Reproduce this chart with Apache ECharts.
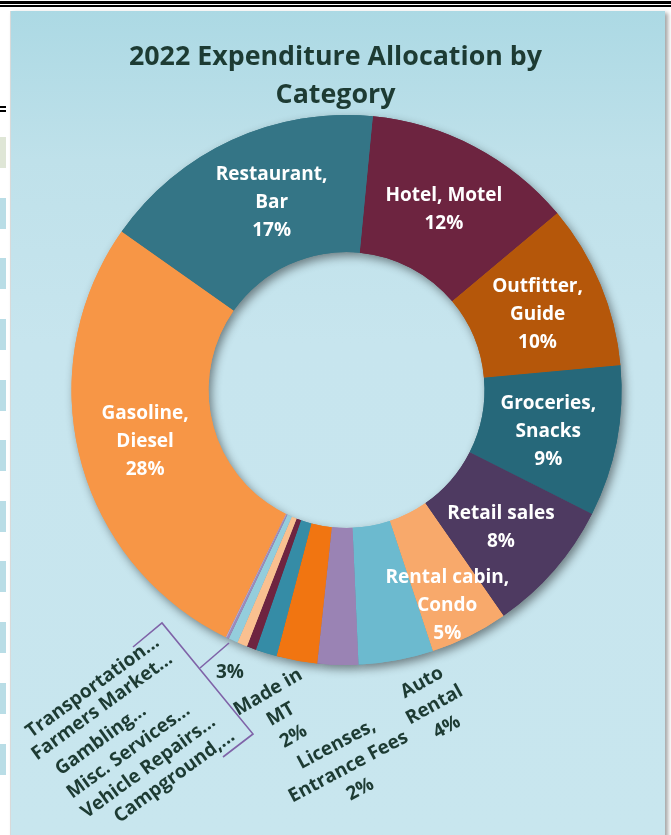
<!DOCTYPE html>
<html>
<head>
<meta charset="utf-8">
<script src="https://cdn.jsdelivr.net/npm/echarts@6/dist/echarts.min.js"></script>
<style>
  html, body { margin: 0; padding: 0; background: #ffffff; }
  #wrap { position: relative; width: 671px; height: 835px; overflow: hidden; background: #ffffff; }
  .hl { position: absolute; left: 0; width: 671px; background: #000; }
  .cell { position: absolute; left: 0; width: 6px; height: 31px; background: #b9dde6; }
  #panel { position: absolute; left: 10px; top: 11px; width: 654px; height: 830px;
    background: linear-gradient(to bottom, #acd9e4 0%, #bfe1ea 18%, #c7e5ee 40%, #c8e6ee 100%);
    box-shadow: 3px 2px 4px rgba(0,0,0,0.35); border-left: 1px solid #d9d9d9; }
  #chart { position: absolute; left: 0; top: 0; width: 671px; height: 835px; }
</style>
</head>
<body>
<div id="wrap">
  <div class="hl" style="top:1px;height:3px"></div>
  <div class="hl" style="top:5px;height:2px"></div>
  <div class="hl" style="top:106px;width:6px;height:2px"></div>
  <div class="hl" style="top:110px;width:6px;height:2px"></div>
  <div class="cell" style="top:137px;background:#dfe6d6"></div>
  <div class="cell" style="top:198px"></div>
  <div class="cell" style="top:258px"></div>
  <div class="cell" style="top:319px"></div>
  <div class="cell" style="top:380px"></div>
  <div class="cell" style="top:440px"></div>
  <div class="cell" style="top:501px"></div>
  <div class="cell" style="top:561px"></div>
  <div class="cell" style="top:622px"></div>
  <div class="cell" style="top:683px"></div>
  <div class="cell" style="top:744px"></div>
  <div id="panel"></div>
  <div id="chart"></div>
</div>
<script>
// ---- data ----
const titleText = '2022 Expenditure Allocation by\nCategory';
const categories = ['Hotel, Motel', 'Outfitter, Guide', 'Groceries, Snacks', 'Retail sales',
  'Rental cabin, Condo', 'Auto Rental', 'Licenses, Entrance Fees', 'Made in MT',
  'Campground,...', 'Vehicle Repairs...', 'Misc. Services...', 'Gambling...',
  'Farmers Market...', 'Transportation...', 'Gasoline, Diesel', 'Restaurant, Bar'];
const labelTexts = ['Hotel, Motel', 'Outfitter,\nGuide', 'Groceries,\nSnacks', 'Retail sales',
  'Rental cabin,\nCondo', 'Auto\nRental', 'Licenses,\nEntrance Fees', 'Made in\nMT',
  'Campground,...', 'Vehicle Repairs...', 'Misc. Services...', 'Gambling...',
  'Farmers Market...', 'Transportation...', 'Gasoline,\nDiesel', 'Restaurant,\nBar'];
const values = [12.4, 9.7, 8.9, 7.9, 4.6, 4.4, 2.4, 2.4, 1.25, 0.55, 0.6, 0.55, 0.12, 0.08, 27.6, 16.8];
// small categories that share one bracketed percentage label
const groupedNames = ['Transportation...', 'Farmers Market...', 'Gambling...',
  'Misc. Services...', 'Vehicle Repairs...', 'Campground,...'];

// ---- styles ----
const colors = ['#6d2440', '#b5570a', '#26687a', '#4e3a61', '#f8a96b', '#6cbacf', '#9a83b4', '#f17511',
  '#358ca6', '#6e2440', '#f9c090', '#94cddc', '#9e8abc', '#b7a6cf', '#f79646', '#347586'];
const darkText = '#1d3b33';
const FONT = '"Open Sans", "Noto Sans", sans-serif';
const CX = 346.5, CY = 390, R0 = 138, R1 = 275, START = 84.5;
// label placement: radius from centre and angle offset (deg) from the slice's mid-angle
const placement = {
  0: { r: 205, da: 0.6 },
  1: { r: 205.4, da: 1.0 },
  2: { r: 206.1, da: 0.9 },
  3: { r: 206.8, da: 0.7 },
  4: { r: 238, da: 1.5 },
  5: { r: 327, da: -5.2, rot: 29, dark: true },
  6: { r: 377, da: -2.1, rot: 28, dark: true },
  7: { r: 331, da: 1.0, rot: 30, dark: true },
  8: { r: 423, da: 7.0, rot: 36, dark: true },
  9: { r: 425.9, da: 7.5, rot: 36, dark: true },
  10: { r: 422, da: 8.8, rot: 36, dark: true },
  11: { r: 427.6, da: 10.7, rot: 36, dark: true },
  12: { r: 399.9, da: 12.1, rot: 36, dark: true },
  13: { r: 390.7, da: 14.6, rot: 36, dark: true },
  14: { r: 208, da: -0.1 },
  15: { r: 202, da: 2.9 }
};

const total = values.reduce((a, b) => a + b, 0);
const midAngles = [];
(function () {
  let acc = 0;
  values.forEach(v => { midAngles.push((90 - START) + (acc + v / 2) / total * 360); acc += v; });
})();
function polar(angleDeg, r) {
  const a = angleDeg * Math.PI / 180;
  return [CX + r * Math.sin(a), CY - r * Math.cos(a)];
}
const isGrouped = i => groupedNames.indexOf(categories[i]) >= 0;
const groupedSum = groupedNames.reduce((s, n) => s + values[categories.indexOf(n)], 0);
const groupedPct = Math.round(groupedSum / total * 100) + '%';

const data = categories.map((name, i) => {
  const p = placement[i] || {};
  return {
    name: name, value: values[i], itemStyle: { color: colors[i] },
    label: {
      show: true,
      color: p.dark ? darkText : '#ffffff',
      rotate: p.rot || 0,
      lineHeight: p.dark ? 25.5 : 28
    }
  };
});

const chart = echarts.init(document.getElementById('chart'), null, { renderer: 'canvas' });
chart.setOption({
  backgroundColor: 'transparent',
  animation: false,
  title: {
    text: titleText,
    left: 'center',
    top: 33,
    textStyle: { fontFamily: FONT, fontWeight: 'bold', fontSize: 26.8, color: darkText, lineHeight: 38 }
  },
  series: [
    {
      type: 'pie', silent: true, z: 1,
      center: [CX, CY], radius: [R0, R1], startAngle: START,
      label: { show: false }, labelLine: { show: false },
      itemStyle: { shadowBlur: 10, shadowOffsetX: 3, shadowOffsetY: 4, shadowColor: 'rgba(0,0,0,0.45)' },
      data: categories.map((n, i) => ({ name: n, value: values[i], itemStyle: { color: colors[i] } }))
    },
    {
      type: 'pie', z: 2,
      center: [CX, CY], radius: [R0, R1], startAngle: START,
      avoidLabelOverlap: false,
      itemStyle: { borderWidth: 0 },
      label: {
        position: 'inside',
        fontFamily: FONT, fontWeight: 'bold', fontSize: 19,
        formatter: p => isGrouped(p.dataIndex) ? labelTexts[p.dataIndex]
          : labelTexts[p.dataIndex] + '\n' + Math.round(p.value / total * 100) + '%'
      },
      labelLine: { show: false },
      labelLayout: params => {
        const p = placement[params.dataIndex];
        if (!p) return {};
        const xy = polar(midAngles[params.dataIndex] + p.da, p.r);
        return { x: xy[0], y: xy[1], align: 'center', verticalAlign: 'middle' };
      },
      data: data
    }
  ],
  graphic: [
    {
      type: 'text', x: 230, y: 673, z: 10,
      style: { text: groupedPct, fill: darkText, fontFamily: FONT, fontWeight: 'bold',
        fontSize: 19, textAlign: 'center', textVerticalAlign: 'middle' }
    },
    {
      type: 'polyline', z: 10,
      shape: { points: [[133, 647], [162, 623], [253, 734], [223, 757]] },
      style: { stroke: '#7f63a8', lineWidth: 1.6, fill: null }
    },
    {
      type: 'line', z: 10,
      shape: { x1: 200, y1: 668, x2: 229, y2: 643 },
      style: { stroke: '#7f63a8', lineWidth: 1.6 }
    }
  ]
});
</script>
</body>
</html>
